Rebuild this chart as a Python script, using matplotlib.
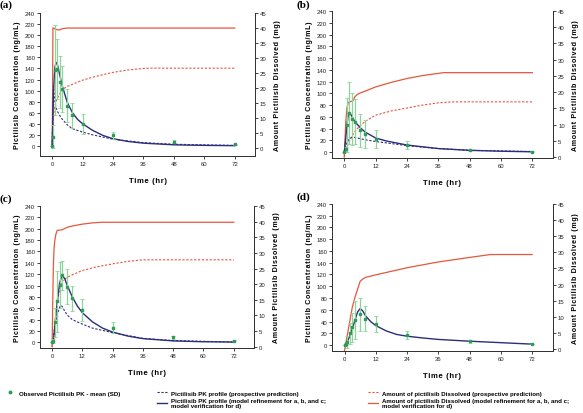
import matplotlib
matplotlib.use('Agg')
import matplotlib.pyplot as plt
from matplotlib.lines import Line2D

plt.rcParams['font.family'] = ['Liberation Sans', 'DejaVu Sans']

BLUE = '#2b2e7a'
RED = '#e4573e'
GREEN = '#2f9b57'
LGREEN = '#8ed49a'

# observed PK (mean, SD) - same sampling times for every panel
obs_t = [0, 0.5, 1, 2, 3, 4, 6, 8, 12, 24, 48, 72]
obs_a = [0, 17, 137, 139, 115, 103, 73, 55, 39, 19, 8, 3]
sd_a = [0, 20, 82, 54, 47, 41, 29, 23, 18, 7, 3, 1]
obs_b = [0, 5, 46, 66, 56, 52, 37, 31, 22, 12, 4, 1]
sd_b = [0, 4, 46, 53, 44, 39, 28, 24, 15, 7, 2, 0.5]
obs_c = [0, 2, 35, 72, 101, 118, 98, 78, 57, 26, 9, 3]
sd_c = [0, 3, 25, 53, 41, 26, 31, 22, 20, 10, 3, 1]
obs_d = [0, 2, 5, 20, 30, 43, 52, 45, 36, 17, 6, 1.5]
sd_d = [0, 2, 10, 18, 25, 32, 28, 22, 14, 7, 2, 0.5]

# (a)
pk_ref_t_a = [0, 0.25, 0.5, 1, 1.5, 2, 3, 4, 6, 8, 10, 12, 16, 20, 24, 30, 36, 48, 60, 72]
pk_ref_a = [0, 40, 95, 140, 151, 148, 128, 108, 78, 60, 48, 40, 28, 19, 13, 8, 5, 2, 1, 0.5]
pk_pro_t_a = [0, 0.25, 0.5, 0.75, 1, 1.5, 2, 3, 4, 6, 8, 12, 16, 24, 36, 48, 72]
pk_pro_a = [0, 70, 108, 95, 82, 70, 63, 55, 48, 38, 31, 25, 20, 12, 6, 3, 1]
dis_ref_t_a = [0, 0.1, 0.2, 0.3, 0.5, 1, 2, 3, 4, 6, 72]
dis_ref_a = [0, 10, 25, 40, 40, 39.8, 39.4, 39.4, 39.8, 40, 40]
dis_pro_t_a = [0, 0.25, 0.5, 1, 2, 3, 4, 6, 8, 12, 16, 24, 30, 36, 38, 72]
dis_pro_a = [0, 5, 10, 14, 16.5, 18, 19.5, 20.5, 21.2, 22.6, 23.6, 25.2, 26, 26.5, 26.6, 26.6]

# (b)
pk_ref_t_b = [0, 0.5, 1, 1.5, 2, 2.5, 3, 4, 6, 8, 12, 16, 24, 36, 48, 60, 72]
pk_ref_b = [0, 20, 45, 62, 66, 64, 60, 52, 42, 34, 24, 19, 12, 6, 3, 1.5, 0.5]
pk_pro_t_b = [0, 0.5, 1, 2, 3, 4, 6, 8, 12, 24, 36, 48, 72]
pk_pro_b = [0, 8, 16, 23, 25, 25, 23, 21, 18, 11, 6, 3, 1]
dis_ref_t_b = [0, 0.3, 0.6, 1, 1.5, 2, 3, 3.5, 4, 5, 6, 8, 12, 18, 24, 30, 38, 72]
dis_ref_b = [0, 6, 11, 15, 16.8, 17, 17.2, 17.5, 18.5, 19.3, 19.7, 20.3, 21.6, 23, 24.2, 25.1, 26, 26]
dis_pro_t_b = [0, 1, 2, 3, 4, 6, 8, 12, 18, 24, 30, 36, 42, 72]
dis_pro_b = [0, 3, 5, 6.5, 7.8, 9.6, 11, 12.9, 14.2, 15.1, 16, 16.7, 17, 17]

# (c)
pk_ref_t_c = [0, 0.5, 1, 2, 3, 4, 5, 6, 8, 10, 12, 16, 20, 24, 30, 36, 48, 60, 72]
pk_ref_c = [0, 3, 25, 70, 105, 118, 112, 100, 80, 64, 52, 36, 25, 18, 11, 6.5, 2.5, 1, 0.5]
pk_pro_t_c = [0, 0.5, 1, 2, 3, 3.5, 4, 5, 6, 8, 12, 16, 24, 36, 48, 72]
pk_pro_c = [0, 3, 20, 48, 62, 65, 63, 55, 48, 40, 32, 25, 17, 7, 3, 0.5]
dis_ref_t_c = [0, 0.25, 0.5, 0.75, 1, 1.5, 2, 3, 4, 5, 6, 8, 12, 16, 20, 72]
dis_ref_c = [0, 14, 26, 31, 33.5, 36, 37.2, 37.3, 37.4, 37.8, 38.2, 38.6, 39.2, 39.6, 39.8, 39.8]
dis_pro_t_c = [0, 0.5, 1, 2, 3, 4, 6, 8, 12, 18, 24, 30, 36, 72]
dis_pro_c = [0, 3, 7, 14, 18.5, 21, 22.2, 23, 24.4, 25.6, 26.5, 27.3, 27.8, 27.8]

# (d)
pk_ref_t_d = [0, 1, 2, 3, 4, 5, 6, 7, 8, 10, 12, 16, 20, 24, 30, 36, 48, 60, 72]
pk_ref_d = [0, 5, 15, 28, 42, 56, 62, 58, 50, 40, 33, 24, 18, 15, 12, 9.5, 6.5, 4, 1.5]
dis_ref_t_d = [0, 1, 2, 3, 4, 5, 6, 7, 8, 12, 24, 36, 48, 56, 72]
dis_ref_d = [-0.5, 4, 8.5, 13, 16, 18.5, 21, 21.7, 22.2, 23, 25.2, 27, 28.4, 29.3, 29.3]

panels = [
    ('(a)', [0.0686, 0.621, 0.369, 0.345], -18, -2.7, obs_a, sd_a,
     (pk_ref_t_a, pk_ref_a), (pk_pro_t_a, pk_pro_a), (dis_ref_t_a, dis_ref_a), (dis_pro_t_a, dis_pro_a)),
    ('(b)', [0.569, 0.616, 0.380, 0.355], -10, -0.3, obs_b, sd_b,
     (pk_ref_t_b, pk_ref_b), (pk_pro_t_b, pk_pro_b), (dis_ref_t_b, dis_ref_b), (dis_pro_t_b, dis_pro_b)),
    ('(c)', [0.0686, 0.157, 0.367, 0.343], -10, -0.4, obs_c, sd_c,
     (pk_ref_t_c, pk_ref_c), (pk_pro_t_c, pk_pro_c), (dis_ref_t_c, dis_ref_c), (dis_pro_t_c, dis_pro_c)),
    ('(d)', [0.5695, 0.150, 0.379, 0.355], -10, -0.6, obs_d, sd_d,
     (pk_ref_t_d, pk_ref_d), None, (dis_ref_t_d, dis_ref_d), None),
]
label_pos = [(0.0, 0.998), (0.508, 0.998), (0.0, 0.53), (0.508, 0.535)]


def spaced(s):
    # the original labels are letter-spaced
    return '\u200a'.join(s)


fig = plt.figure(figsize=(5.83, 4.14), dpi=100)

for i, (lab, pos, ylo, y2lo, obs, sd, pkr, pkp, dsr, dsp) in enumerate(panels):
    ax = fig.add_axes(pos)
    ax2 = ax.twinx()
    ax.set_zorder(ax2.get_zorder() + 1)
    ax.patch.set_visible(False)

    ax2.plot(dsr[0], dsr[1], color=RED, lw=0.9)
    if dsp is not None:
        ax2.plot(dsp[0], dsp[1], color=RED, lw=0.8, ls=(0, (2, 1.5)))
    ax.plot(pkr[0], pkr[1], color=BLUE, lw=1.0)
    if pkp is not None:
        ax.plot(pkp[0], pkp[1], color=BLUE, lw=0.8, ls=(0, (2, 1.5)))
    ax.errorbar(obs_t, obs, yerr=sd, fmt='s', ms=1.8, color=GREEN, ecolor=LGREEN,
                elinewidth=0.9, capsize=1.2, capthick=0.6)

    ax.set_xlim(-4.8, 80)
    ax.set_ylim(ylo, 240)
    ax2.set_ylim(y2lo, 45)
    ax.set_xticks(range(0, 73, 12))
    ax.set_yticks(range(0, 241, 20))
    ax2.set_yticks(range(0, 46, 5))
    for a in (ax, ax2):
        a.tick_params(direction='out', length=2, width=0.6, labelsize=4.3, pad=1.5, colors='#222222')
        a.spines['top'].set_visible(False)
        for s in ('left', 'right', 'bottom'):
            a.spines[s].set_linewidth(0.7)
            a.spines[s].set_color('#333333')
    ax.set_xlabel(spaced('Time (hr)'), fontsize=5.6, fontweight='bold', labelpad=8)
    ax.set_ylabel(spaced('Pictilisib Concentration (ng/mL)'), fontsize=5.1, fontweight='bold', labelpad=3)
    ax2.set_ylabel(spaced('Amount Pictilisib Dissolved (mg)'), fontsize=5.1, fontweight='bold', labelpad=5)

    fig.text(label_pos[i][0], label_pos[i][1], lab, va='top', ha='left',
             family=['Liberation Serif', 'DejaVu Serif'], fontweight='bold', fontsize=8)

leg_kw = dict(loc='upper left', frameon=False, borderaxespad=0, borderpad=0,
              handlelength=1.7, handletextpad=0.6, labelspacing=0.45,
              prop={'size': 4.4, 'weight': 'bold'})

h1 = [Line2D([], [], marker='o', ms=1.8, color=GREEN, ls='none')]
l1 = fig.legend(h1, ['Observed Pictilisib PK - mean (SD)'], bbox_to_anchor=(0.009, 0.055), **leg_kw)

h2 = [Line2D([], [], color=BLUE, lw=0.8, ls=(0, (2, 1.5))), Line2D([], [], color=BLUE, lw=1.0)]
l2 = fig.legend(h2, ['Pictilisib PK profile (prospective prediction)',
                     'Pictilisib PK profile (model refinement for a, b, and c;\nmodel verification for d)'],
                bbox_to_anchor=(0.269, 0.055), **leg_kw)

h3 = [Line2D([], [], color=RED, lw=0.8, ls=(0, (2, 1.5))), Line2D([], [], color=RED, lw=0.9)]
l3 = fig.legend(h3, ['Amount of pictilisib Dissolved (prospective prediction)',
                     'Amount of pictilisib Dissolved (model refinement for a, b, and c;\nmodel verification for d)'],
                bbox_to_anchor=(0.631, 0.055), **leg_kw)

for lg in (l1, l2, l3):
    for t in lg.get_texts():
        t.set_linespacing(1.0)

fig.savefig('out.png', dpi=100)
